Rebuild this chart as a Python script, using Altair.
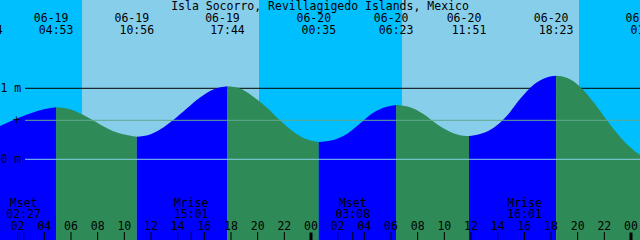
import altair as alt
import pandas as pd

# ---- data (time in hours from 06-19 00:00, height in m) ----
curve_t = [0.675, 2.175, 3.15, 4.05, 4.883, 5.925, 6.9, 7.65, 8.175, 9.45, 10.933,
           11.925, 12.675, 13.673, 14.678, 15.675, 16.673, 17.733, 18.675, 19.673,
           20.678, 21.675, 22.673, 23.678, 24.583, 25.673, 26.678, 27.675, 28.673,
           29.678, 30.383, 31.425, 32.423, 33.428, 34.425, 35.423, 35.85, 36.675,
           37.673, 38.678, 39.675, 40.673, 41.678, 42.383, 43.178, 44.175, 45.173,
           46.178, 47.175, 48.173, 48.675]
curve_h = [0.469, 0.593, 0.659, 0.708, 0.732, 0.704, 0.627, 0.549, 0.490, 0.376, 0.318,
           0.349, 0.420, 0.554, 0.715, 0.870, 0.983, 1.028, 0.997, 0.882,
           0.730, 0.549, 0.389, 0.282, 0.244, 0.272, 0.356, 0.504, 0.656,
           0.741, 0.765, 0.732, 0.638, 0.497, 0.389, 0.332, 0.328, 0.356,
           0.441, 0.610, 0.849, 1.046, 1.152, 1.177, 1.149, 1.023, 0.811,
           0.554, 0.318, 0.131, 0.061]
extreme_t = [4.883, 10.933, 17.733, 24.583, 30.383, 35.85, 42.383]

label_t = [-0.417, 4.883, 10.933, 17.733, 24.583, 30.383, 35.85, 42.383, 49.267]
label_date = ["06-18", "06-19", "06-19", "06-19", "06-20", "06-20", "06-20", "06-20", "06-21"]
label_time = ["23:34", "04:53", "10:56", "17:44", "00:35", "06:23", "11:51", "18:23", "01:16"]

bg_start = [0.675, 6.825, 20.1, 30.825, 44.1]
bg_end = [6.825, 20.1, 30.825, 44.1, 48.675]
bg_kind = ["night", "day", "night", "day", "night"]

hour_ticks = [2, 4, 6, 8, 10, 12, 14, 16, 18, 20, 22, 24,
              26, 28, 30, 32, 34, 36, 38, 40, 42, 44, 46, 48]
moon_t = [2.45, 15.017, 27.133, 40.017]
moon_name = ["Mset", "Mrise", "Mset", "Mrise"]
moon_time = ["02:27", "15:01", "03:08", "16:01"]

title_text = "Isla Socorro, Revillagigedo Islands, Mexico"
level_h = [1.0, 0.549, 0.0]
level_label = ["1 m", "+", "0 m"]

Y_MIN, Y_MAX = -1.1366, 2.2437

# ---- build tables ----
rows = []
bounds = [0] + [curve_t.index(e) for e in extreme_t] + [len(curve_t) - 1]
seg_dir = []
for s in range(len(bounds) - 1):
    a, b = bounds[s], bounds[s + 1]
    d = "rise" if curve_h[b] > curve_h[a] else "fall"
    seg_dir.append(d)
    for i in range(a, b + 1):
        rows.append({"t": curve_t[i], "h": curve_h[i], "base": Y_MIN, "seg": s, "dir": d})
curve_df = pd.DataFrame(rows)

bg_df = pd.DataFrame({"start": bg_start, "end": bg_end, "kind": bg_kind})
lab_df = pd.DataFrame({"t": label_t, "date": label_date, "time": label_time})
ticks_df = pd.DataFrame({"t": hour_ticks,
                         "lab": ["%02d" % (h % 24) for h in hour_ticks],
                         "mid": [h % 24 == 0 for h in hour_ticks]})
moon_df = pd.DataFrame({"t": moon_t, "name": moon_name, "time": moon_time})
lev_df = pd.DataFrame({"h": level_h, "lab": level_label})

FONT = "DejaVu Sans Mono"
FS = 11.5
xs = alt.Scale(domain=[0.675, 48.675], nice=False, zero=False)
ys = alt.Scale(domain=[Y_MIN, Y_MAX], nice=False, zero=False)
X = lambda f: alt.X(f, scale=xs, axis=None)
Y = lambda f: alt.Y(f, scale=ys, axis=None)
FILL = {"rise": "#0000FF", "fall": "#2E8B57"}


def bg_layer(kind, color):
    return alt.Chart(bg_df[bg_df.kind == kind]).mark_rect(color=color).encode(
        x=X("start:Q"), x2="end:Q", y=alt.value(0), y2=alt.value(240))


def seg_layer(s):
    return alt.Chart(curve_df[curve_df.seg == s]).mark_area(
        interpolate="monotone", clip=True, color=FILL[seg_dir[s]]).encode(
        x=X("t:Q"), y=Y("h:Q"), y2="base:Q")


one_m = alt.Chart(lev_df[lev_df.h == 1.0]).mark_rule(color="black", strokeWidth=1).encode(
    x=alt.value(25), x2=alt.value(640), y=Y("h:Q"))
mean_line = alt.Chart(lev_df[lev_df.lab == "+"]).mark_rule(color="#63A88E", strokeWidth=1).encode(
    x=alt.value(25), x2=alt.value(640), y=Y("h:Q"))
zero_line = alt.Chart(lev_df[lev_df.h == 0.0]).mark_rule(color="#87CEEB", strokeWidth=1).encode(
    x=alt.value(25), x2=alt.value(640), y=Y("h:Q"))

lev_text = alt.Chart(lev_df[lev_df.lab != "+"]).mark_text(
    font=FONT, fontSize=FS, align="left", baseline="alphabetic", dy=4, color="black").encode(
    x=alt.value(0.5), y=Y("h:Q"), text="lab:N")
plus_text = alt.Chart(lev_df[lev_df.lab == "+"]).mark_text(
    font=FONT, fontSize=FS, align="center", baseline="alphabetic", dy=4, color="black").encode(
    x=alt.value(16.5), y=Y("h:Q"), text="lab:N")

title = alt.Chart(pd.DataFrame({"s": [title_text]})).mark_text(
    font=FONT, fontSize=FS, align="center", baseline="alphabetic", color="black").encode(
    x=alt.value(320), y=alt.value(10), text="s:N")

date_text = alt.Chart(lab_df).mark_text(
    font=FONT, fontSize=FS, align="center", baseline="alphabetic", dx=-5, color="black").encode(
    x=X("t:Q"), y=alt.value(21.7), text="date:N")
time_text = alt.Chart(lab_df).mark_text(
    font=FONT, fontSize=FS, align="center", baseline="alphabetic", color="black").encode(
    x=X("t:Q"), y=alt.value(34.3), text="time:N")

tick_norm = alt.Chart(ticks_df[~ticks_df.mid]).mark_rule(color="black", strokeWidth=1).encode(
    x=X("t:Q"), y=alt.value(232), y2=alt.value(240))
tick_mid = alt.Chart(ticks_df[ticks_df.mid]).mark_rule(color="black", strokeWidth=3).encode(
    x=X("t:Q"), y=alt.value(232.5), y2=alt.value(240))
tick_moon = alt.Chart(moon_df).mark_rule(color="black", strokeWidth=1).encode(
    x=X("t:Q"), y=alt.value(232), y2=alt.value(240))
hour_text = alt.Chart(ticks_df).mark_text(
    font=FONT, fontSize=FS, align="center", baseline="alphabetic", color="black").encode(
    x=X("t:Q"), y=alt.value(230), text="lab:N")
moon_name_text = alt.Chart(moon_df).mark_text(
    font=FONT, fontSize=FS, align="center", baseline="alphabetic", color="black").encode(
    x=X("t:Q"), y=alt.value(206.7), text="name:N")
moon_time_text = alt.Chart(moon_df).mark_text(
    font=FONT, fontSize=FS, align="center", baseline="alphabetic", color="black").encode(
    x=X("t:Q"), y=alt.value(217.7), text="time:N")

layers = [bg_layer("night", "#00BFFF"), bg_layer("day", "#87CEEB"), one_m]
layers += [seg_layer(s) for s in range(len(seg_dir))]
layers += [mean_line, zero_line, lev_text, plus_text, title,
           date_text, time_text, tick_norm, tick_moon, tick_mid, hour_text,
           moon_name_text, moon_time_text]

chart = alt.layer(*layers).properties(
    width=640, height=240, padding=0, autosize=alt.AutoSizeParams(type="none")
).configure_view(stroke=None)

chart.save("out.html", embed_options={"renderer": "svg", "actions": False})
